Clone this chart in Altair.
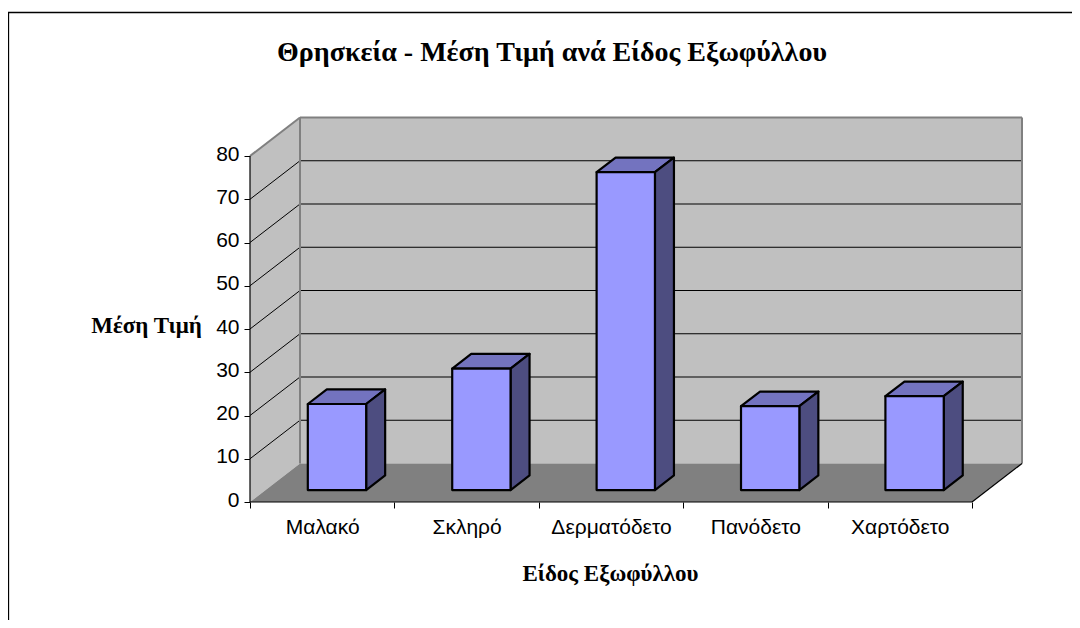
import altair as alt
import pandas as pd

# ---- values
categories = ["Μαλακό", "Σκληρό", "Δερματόδετο", "Πανόδετο", "Χαρτόδετο"]
prices = [19.9, 28.1, 73.5, 19.4, 21.7]
y_ticks = [0, 10, 20, 30, 40, 50, 60, 70, 80]

title_text = "Θρησκεία - Μέση Τιμή ανά Είδος Εξωφύλλου"
x_title = "Είδος Εξωφύλλου"
y_title = "Μέση Τιμή"

# ---- oblique projection of the 3D box, in data units
PX_CAT = 144.4
PX_VAL = 4.325
W, H = 772, 384
DX = 50 / PX_CAT
DY = 38.5 / PX_VAL
X_DOMAIN = [0, W / PX_CAT]
Y_DOMAIN = [0, H / PX_VAL]
N = len(categories)
TOP = 80
BAR_W = 0.404
D0, D1 = 0.31, 0.69

FRONT = "#9999FF"
SIDE = "#4D4D80"
ROOF = "#7373BF"
WALL = "#C0C0C0"
FLOOR = "#808080"
EDGE = "#808080"
SERIF = "Liberation Serif"
SANS = "Liberation Sans"

xs = alt.Scale(domain=X_DOMAIN, nice=False, zero=False)
ys = alt.Scale(domain=Y_DOMAIN, nice=False, zero=False)

x_values = [k / 2 for k in range(0, 2 * N + 1)]
label_expr = "datum.value % 1 === 0 ? '' : " + str(categories) + "[floor(datum.value)]"
X_AXIS = alt.Axis(
    values=x_values, labelExpr=label_expr, domain=False, grid=False,
    tickSize=6, tickColor="#000000",
    tickOpacity={"condition": {"test": "datum.value % 1 === 0", "value": 1}, "value": 0},
    labelFont=SANS, labelFontSize=21, labelColor="#000000", labelPadding=8.5,
    labelAngle=0, labelFlush=False, labelOverlap=False,
    title=x_title, titleFont=SERIF, titleFontSize=23, titleFontWeight="bold",
    titleColor="#000000", titleX=360, titleY=78, titleBaseline="alphabetic",
    titleAnchor="middle", titleAlign="center",
)
Y_AXIS = alt.Axis(
    values=y_ticks, domain=False, grid=False, tickSize=6, tickColor="#000000",
    labelFont=SANS, labelFontSize=21, labelColor="#000000", labelPadding=5,
    labelOffset=-2, labelOverlap=False, labelFlush=False,
    title=y_title, titleFont=SERIF, titleFontSize=23, titleFontWeight="bold",
    titleColor="#000000", titleAngle=0, titleX=-104, titleY=214,
    titleAlign="center", titleBaseline="alphabetic",
)


def X(field="x"):
    return alt.X(f"{field}:Q", scale=xs, axis=X_AXIS)


def Y(field="y"):
    return alt.Y(f"{field}:Q", scale=ys, axis=Y_AXIS)


def vertical_faces(rows, **mark):
    return alt.Chart(pd.DataFrame(rows)).mark_area(**mark).encode(
        x=X(), y=Y(), y2="y2:Q", detail="k:N"
    )


def horizontal_faces(rows, **mark):
    return alt.Chart(pd.DataFrame(rows)).mark_area(orient="horizontal", **mark).encode(
        y=Y(), x=X(), x2="x2:Q", detail="k:N"
    )


def segments(rows, **mark):
    return alt.Chart(pd.DataFrame(rows)).mark_rule(**mark).encode(
        x=X(), x2="x2:Q", y=Y(), y2="y2:Q"
    )


# walls and floor
back_wall = vertical_faces(
    [{"k": "b", "x": DX, "y": DY, "y2": TOP + DY},
     {"k": "b", "x": N + DX, "y": DY, "y2": TOP + DY}],
    color=WALL,
)
side_wall = vertical_faces(
    [{"k": "s", "x": 0, "y": 0, "y2": TOP},
     {"k": "s", "x": DX, "y": DY, "y2": TOP + DY}],
    color=WALL,
)
floor = horizontal_faces(
    [{"k": "f", "y": 0, "x": 0, "x2": N},
     {"k": "f", "y": DY, "x": DX, "x2": N + DX}],
    color=FLOOR,
)

# gridlines on both walls
grid_rows = []
for v in y_ticks[1:-1]:
    grid_rows.append({"x": DX, "x2": N + DX, "y": v + DY, "y2": v + DY})
    grid_rows.append({"x": 0, "x2": DX, "y": v, "y2": v + DY})
grid = segments(grid_rows, color="#000000", strokeWidth=1)

wall_edges = segments(
    [{"x": DX, "x2": DX, "y": DY, "y2": TOP + DY},
     {"x": N + DX, "x2": N + DX, "y": DY, "y2": TOP + DY},
     {"x": DX, "x2": N + DX, "y": TOP + DY, "y2": TOP + DY},
     {"x": 0, "x2": DX, "y": TOP, "y2": TOP + DY}],
    color=EDGE, strokeWidth=2,
)
axis_lines = segments(
    [{"x": 0, "x2": 0, "y": 0, "y2": TOP},
     {"x": 0, "x2": N, "y": 0, "y2": 0},
     {"x": N, "x2": N + DX, "y": 0, "y2": DY}],
    color="#000000", strokeWidth=1.2,
)

# bars
front_rows, side_rows, roof_rows = [], [], []
for i, v in enumerate(prices):
    left = i + 0.5 - BAR_W / 2 - 0.005 + D0 * DX
    right = left + BAR_W
    d = (D1 - D0) * DX
    base = D0 * DY
    rise = (D1 - D0) * DY
    front_rows += [{"k": i, "x": left, "y": base, "y2": base + v},
                   {"k": i, "x": right, "y": base, "y2": base + v}]
    side_rows += [{"k": i, "x": right, "y": base, "y2": base + v},
                  {"k": i, "x": right + d, "y": base + rise, "y2": base + rise + v}]
    roof_rows += [{"k": i, "y": base + v, "x": left, "x2": right},
                  {"k": i, "y": base + rise + v, "x": left + d, "x2": right + d}]

bar_style = dict(stroke="#000000", strokeWidth=2.2, strokeJoin="round")
fronts = vertical_faces(front_rows, color=FRONT, **bar_style)
sides = vertical_faces(side_rows, color=SIDE, **bar_style)
roofs = horizontal_faces(roof_rows, color=ROOF, **bar_style)

# outer chart frame, cut off by the picture at right and bottom
frame_left = alt.Chart(pd.DataFrame({"a": [0]})).mark_rule(color="#000000", strokeWidth=1.5).encode(
    x=alt.value(-241.6), y=alt.value(-106), y2=alt.value(H + 118)
)
frame_top = alt.Chart(pd.DataFrame({"a": [0]})).mark_rule(color="#000000", strokeWidth=1.5).encode(
    x=alt.value(-242), x2=alt.value(W + 50), y=alt.value(-105.6)
)

chart = alt.layer(
    back_wall, side_wall, floor, grid, wall_edges, axis_lines,
    roofs, sides, fronts, frame_left, frame_top,
).properties(
    width=W, height=H,
    padding={"left": 242, "top": 110, "right": 50, "bottom": 118},
    autosize=alt.AutoSizeParams(type="none"),
    background="#FFFFFF",
    title=alt.TitleParams(
        text=title_text, font=SERIF, fontSize=28, fontWeight="bold", color="#000000",
        anchor="middle", dx=-84, offset=-56,
    ),
).configure_view(stroke=None)

chart.save("out.html", embed_options={"renderer": "svg", "actions": False})
